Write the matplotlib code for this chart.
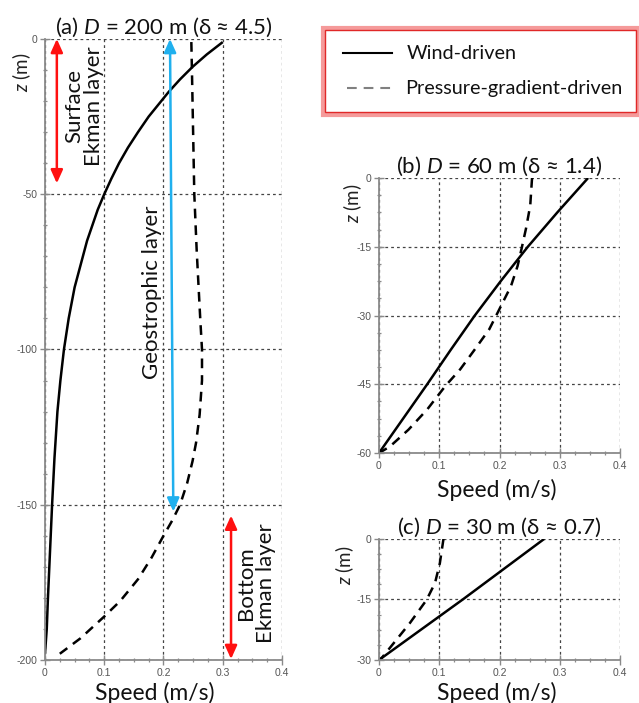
import matplotlib
matplotlib.use("Agg")
import matplotlib.pyplot as plt
from matplotlib.lines import Line2D
from matplotlib.patches import Rectangle
from matplotlib.ticker import AutoMinorLocator

plt.rcParams["font.family"] = ["Lato", "DejaVu Sans"]
plt.rcParams["mathtext.fontset"] = "custom"
plt.rcParams["mathtext.it"] = "Lato:italic"
plt.rcParams["mathtext.rm"] = "Lato"
plt.rcParams["axes.unicode_minus"] = False
plt.rcParams["lines.scale_dashes"] = False

# ---- data ----
# (a) D = 200 m
z_a_wind = [-1, -5, -9, -13, -17, -21, -25, -30, -35, -40, -45, -50, -55,
            -60, -65, -70, -75, -80, -90, -100, -110, -120, -135, -150,
            -165, -180, -190, -198]
u_a_wind = [0.300, 0.273, 0.249, 0.228, 0.209, 0.192, 0.175, 0.157, 0.140,
            0.125, 0.112, 0.100, 0.089, 0.080, 0.071, 0.064, 0.057, 0.050,
            0.040, 0.032, 0.026, 0.021, 0.016, 0.012, 0.0085, 0.005, 0.003,
            0.0]
z_a_pres = [-1, -10, -30, -50, -68, -90, -100, -110, -121, -130, -136, -143,
            -150, -155, -160, -167, -174, -181, -186, -193, -198]
u_a_pres = [0.247, 0.248, 0.250, 0.252, 0.256, 0.262, 0.265, 0.265, 0.261,
            0.255, 0.249, 0.240, 0.228, 0.215, 0.200, 0.180, 0.157, 0.127,
            0.100, 0.060, 0.025]

# (b) D = 60 m
z_b_wind = [0, -7.5, -15, -22.5, -30, -37.5, -45, -52.5, -60]
u_b_wind = [0.347, 0.296, 0.247, 0.202, 0.159, 0.119, 0.080, 0.040, 0.0]
z_b_pres = [0, -6, -11, -15.2, -19.2, -23.6, -28.7, -33, -37.4, -41.7,
            -45.4, -50.5, -54.9, -58.6, -60]
u_b_pres = [0.254, 0.251, 0.244, 0.237, 0.230, 0.219, 0.1995, 0.183, 0.159,
            0.135, 0.110, 0.080, 0.049, 0.018, 0.0]

# (c) D = 30 m
z_c_wind = [0, -15, -30]
u_c_wind = [0.274, 0.139, 0.0]
z_c_pres = [0, -6, -10.9, -15.1, -20.9, -25.9, -29.6, -30]
u_c_pres = [0.107, 0.101, 0.093, 0.079, 0.051, 0.024, 0.004, 0.0]

x_ticks = [0, 0.1, 0.2, 0.3, 0.4]
x_tick_labels = ["0", "0.1", "0.2", "0.3", "0.4"]
y_ticks_a = [0, -50, -100, -150, -200]
y_ticks_b = [0, -15, -30, -45, -60]
y_ticks_c = [0, -15, -30]

titles = [r"(a) $\mathit{D}$ = 200 m (δ ≈ 4.5)",
          r"(b) $\mathit{D}$ = 60 m (δ ≈ 1.4)",
          r"(c) $\mathit{D}$ = 30 m (δ ≈ 0.7)"]

# layer markers in panel (a): (speed top, z top, speed bottom, z bottom)
surface_arrow = (0.020, 0, 0.020, -46.5)
geo_arrow = (0.211, 0, 0.2166, -152.2)
bottom_arrow = (0.314, -153.5, 0.314, -199.7)

RED = "#ff1010"
BLUE = "#20b0ee"
GRID = "#444444"
SPINE = "#8a8a8a"

fig = plt.figure(figsize=(6.39, 7.03), dpi=100)
ax_a = fig.add_axes([0.0704, 0.0612, 0.3709, 0.8834])
ax_b = fig.add_axes([0.5931, 0.3556, 0.3772, 0.3912])
ax_c = fig.add_axes([0.5931, 0.0612, 0.3772, 0.1721])


def style_axes(ax, yticks, nminor_y):
    ax.set_xlim(0, 0.4)
    ax.set_ylim(min(yticks), 0)
    ax.set_xticks(x_ticks, labels=x_tick_labels, fontfamily="Liberation Sans")
    ax.set_yticks(yticks, labels=[f"{v:g}" for v in yticks],
                  fontfamily="Liberation Sans")
    ax.xaxis.set_minor_locator(AutoMinorLocator(4))
    ax.yaxis.set_minor_locator(AutoMinorLocator(nminor_y))
    ax.grid(True, which="major", color=GRID, linestyle=(0, (2, 2.2)), lw=0.9)
    for side in ("top", "right"):
        ax.spines[side].set_visible(False)
    for side in ("left", "bottom"):
        ax.spines[side].set_color(SPINE)
        ax.spines[side].set_linewidth(1.3)
    ax.tick_params(which="major", direction="inout", length=7, width=1,
                   color=SPINE, labelsize=7.5, labelcolor="#555555", pad=2)
    ax.tick_params(which="minor", direction="inout", length=3.5, width=0.9,
                   color=SPINE)
    ax.set_axisbelow(True)


def draw_profiles(ax, uw, zw, up, zp):
    ax.plot(uw, zw, color="black", lw=1.8, solid_capstyle="butt",
            solid_joinstyle="round")
    ax.plot(up, zp, color="black", lw=1.8, dashes=(7, 5),
            dash_capstyle="butt")


style_axes(ax_a, y_ticks_a, 5)
style_axes(ax_b, y_ticks_b, 4)
style_axes(ax_c, y_ticks_c, 4)

draw_profiles(ax_a, u_a_wind, z_a_wind, u_a_pres, z_a_pres)
draw_profiles(ax_b, u_b_wind, z_b_wind, u_b_pres, z_b_pres)
draw_profiles(ax_c, u_c_wind, z_c_wind, u_c_pres, z_c_pres)

for ax, t in zip((ax_a, ax_b, ax_c), titles):
    ax.set_title(t, fontsize=16, pad=4, color="#111111")


def double_arrow(ax, spec, color):
    x0, z0, x1, z1 = spec
    ax.annotate("", xy=(x1, z1), xytext=(x0, z0),
                arrowprops=dict(arrowstyle="<|-|>,head_length=0.8,head_width=0.36",
                                color=color, lw=1.8, shrinkA=0, shrinkB=0),
                annotation_clip=False)


double_arrow(ax_a, surface_arrow, RED)
double_arrow(ax_a, geo_arrow, BLUE)
double_arrow(ax_a, bottom_arrow, RED)

ax_a.text(0.066, -21.5, "Surface\nEkman layer", rotation=90, ha="center",
          va="center", fontsize=16, linespacing=1.0, color="#111111")
ax_a.text(0.180, -81.5, "Geostrophic layer", rotation=90, ha="center",
          va="center", fontsize=16, color="#111111")
ax_a.text(0.356, -175.2, "Bottom\nEkman layer", rotation=90, ha="center",
          va="center", fontsize=16, linespacing=1.0, color="#111111")

# axis labels
for ax, (xz, yz), (xs, ys) in (
        (ax_a, (-0.097, 0.947), (0.464, -0.053)),
        (ax_b, (-0.108, 0.909), (0.49, -0.135)),
        (ax_c, (-0.141, 0.785), (0.49, -0.273))):
    ax.text(xz, yz, r"$\mathit{z}$ (m)", transform=ax.transAxes, rotation=90,
            ha="center", va="center", fontsize=13.5, color="#222222")
    ax.text(xs, ys, "Speed (m/s)", transform=ax.transAxes, ha="center",
            va="center", fontsize=16.5, color="#111111")

# legend box with double red frame
fig.patches.append(Rectangle((0.5055, 0.8364), 0.4925, 0.1238,
                             transform=fig.transFigure, fill=False,
                             edgecolor="#f59a9a", lw=3.0))
fig.patches.append(Rectangle((0.5090, 0.8400), 0.4870, 0.1170,
                             transform=fig.transFigure, fill=False,
                             edgecolor="#e02828", lw=1.0))
fig.lines.append(Line2D([0.537, 0.613], [0.9246, 0.9246], color="black",
                        lw=1.5, transform=fig.transFigure))
fig.lines.append(Line2D([0.543, 0.621], [0.8748, 0.8748], color="#808080",
                        lw=1.5, dashes=(7, 5), transform=fig.transFigure))
fig.text(0.637, 0.9246, "Wind-driven", fontsize=14.3, va="center",
         color="#111111")
fig.text(0.634, 0.8748, "Pressure-gradient-driven", fontsize=14.3,
         va="center", color="#111111")

fig.savefig("out.png", dpi=100)
